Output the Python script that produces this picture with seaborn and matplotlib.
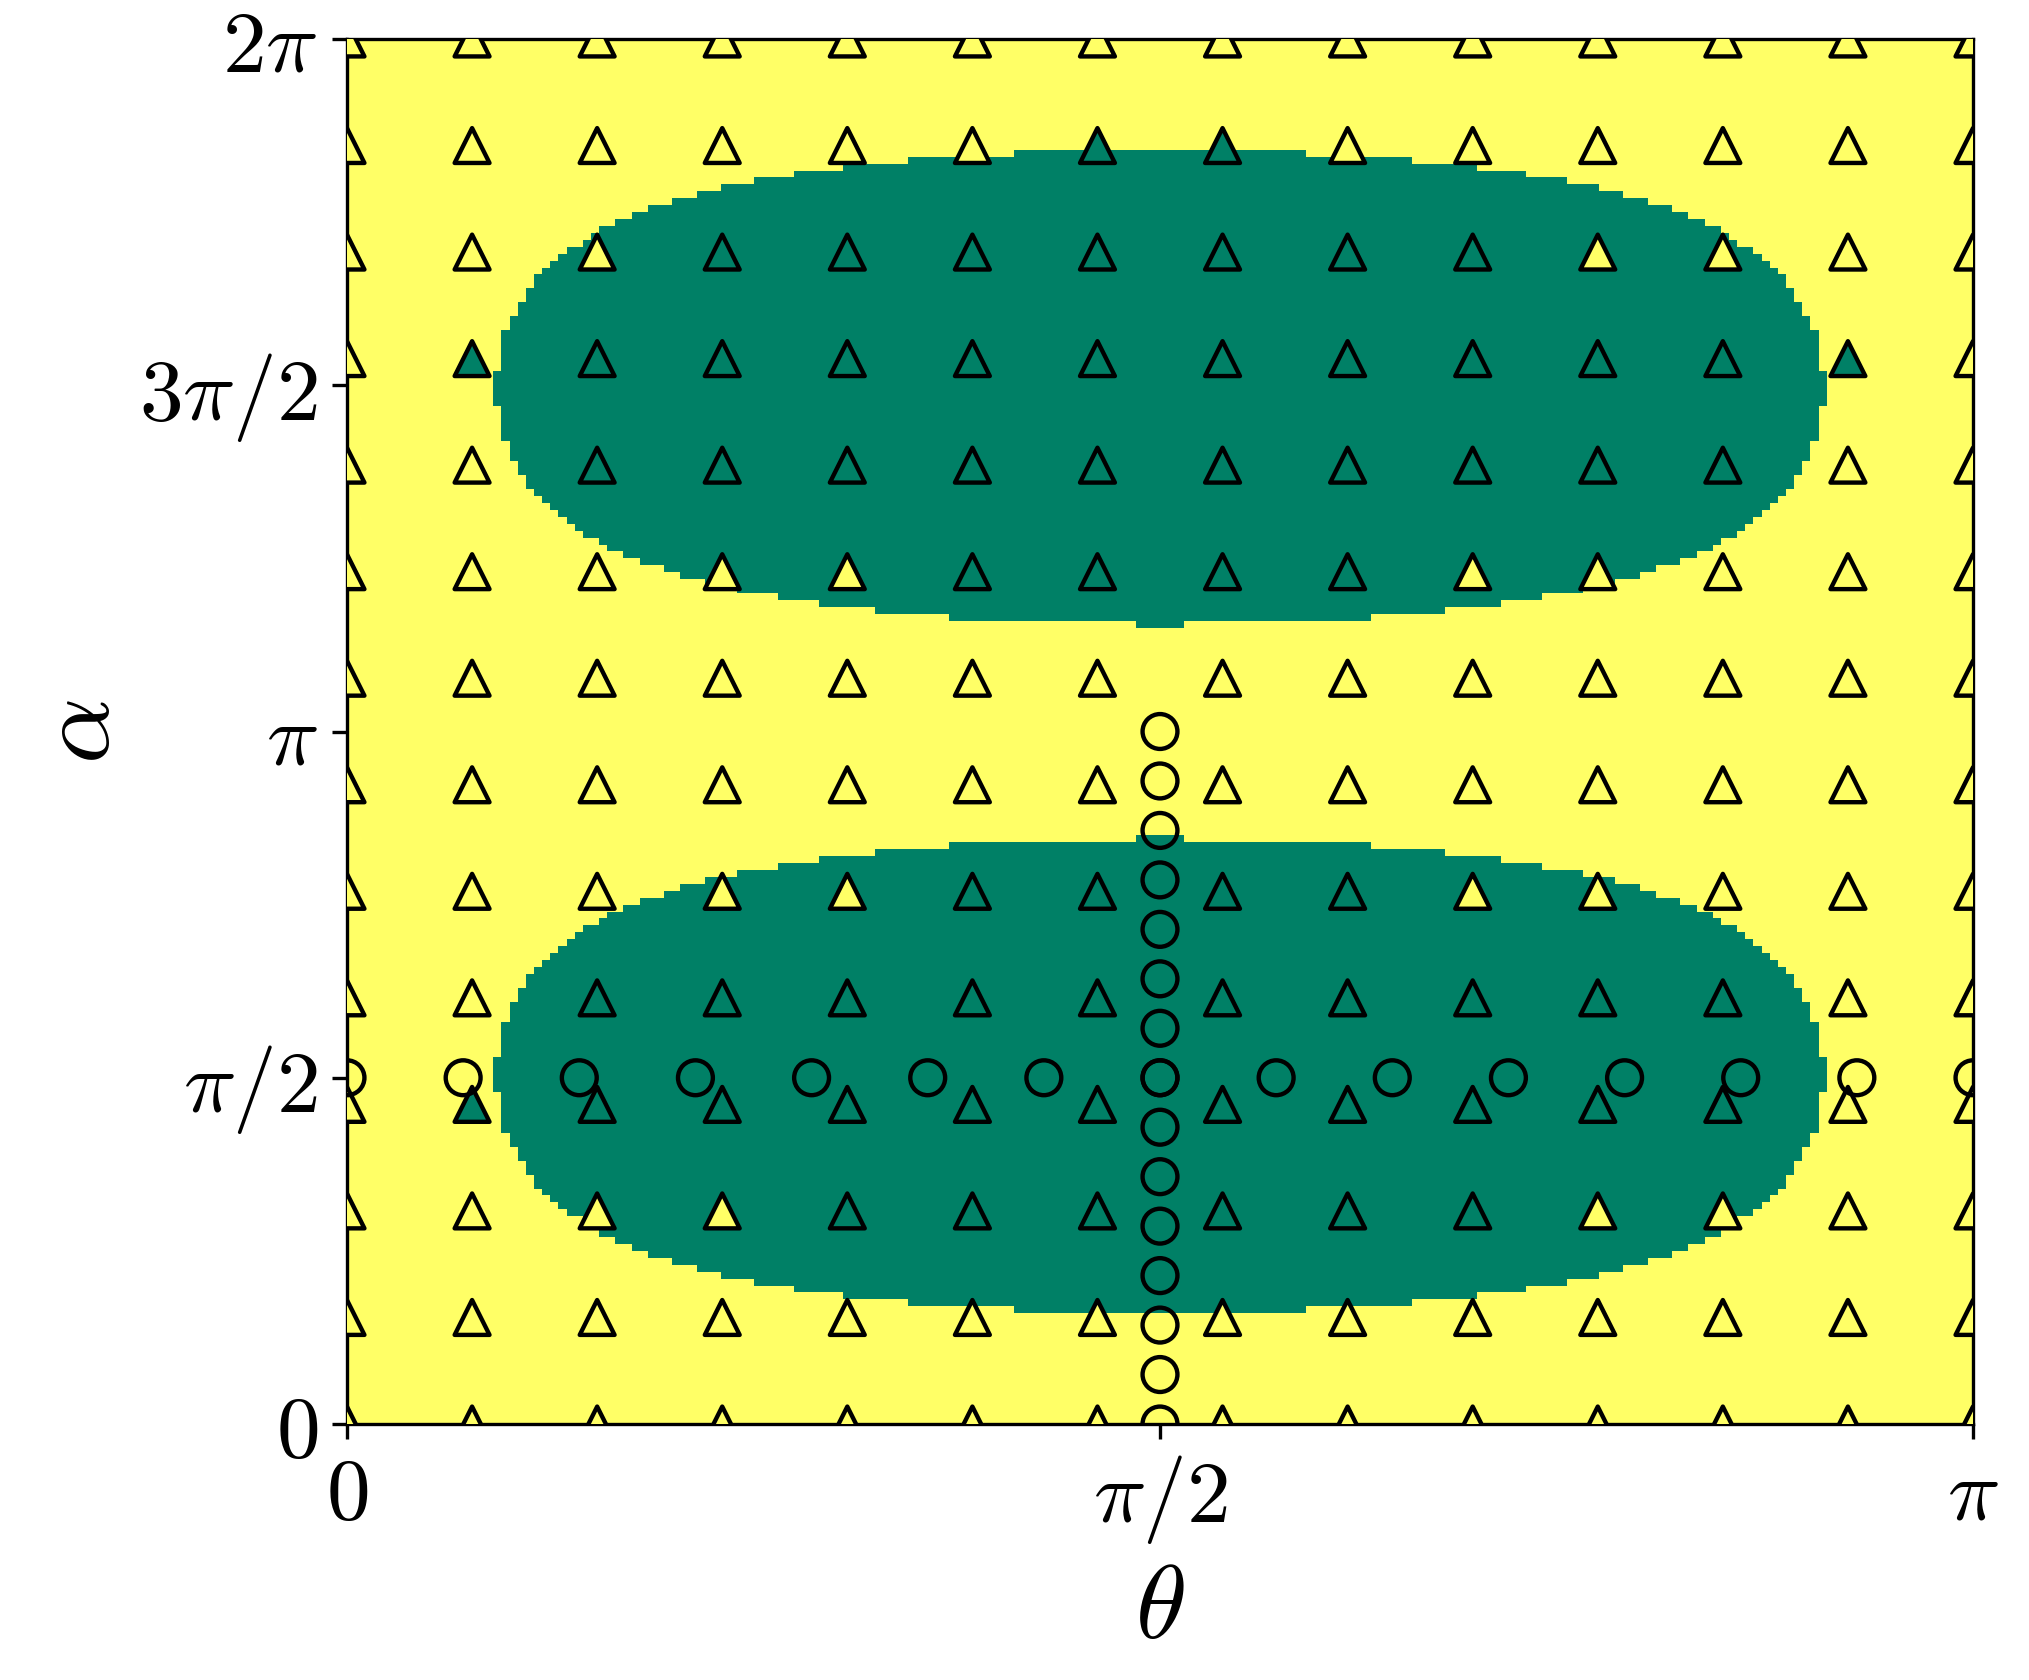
import numpy as np
import pandas as pd
import matplotlib
matplotlib.use('Agg')
import matplotlib.pyplot as plt
from matplotlib.path import Path
import seaborn as sns

# triangle sample grid: 14 x 14 points over theta in [0, pi], alpha in [0, 2pi]
theta_grid = np.linspace(0, np.pi, 14)
alpha_grid = np.linspace(0, 2 * np.pi, 14)

# class of every triangle, row 0 is alpha = 0, '1' = green region class
tri_class = [
    "00000000000000",
    "00000000000000",
    "00001111110000",
    "01111111111100",
    "00111111111100",
    "00000111100000",
    "00000000000000",
    "00000000000000",
    "00000111100000",
    "00111111111100",
    "01111111111110",
    "00011111110000",
    "00000011000000",
    "00000000000000",
]

# circles along alpha = pi/2 and along theta = pi/2
circ_theta = np.linspace(0, np.pi, 15)
circ_alpha = np.linspace(0, np.pi, 15)

# boundary of the green lobes
# half width in theta (measured from pi/2) against distance in alpha from the lobe centre
outer_w = [1.289, 1.271, 1.256, 1.240, 1.225, 1.209, 1.194, 1.179, 1.161, 1.148, 1.115, 1.099,
           1.084, 1.051, 1.020, 0.989, 0.941, 0.895, 0.850, 0.786, 0.707, 0.609, 0.487, 0.282]
outer_a = [0.064, 0.254, 0.318, 0.381, 0.445, 0.504, 0.535, 0.567, 0.599, 0.631, 0.662, 0.694,
           0.726, 0.758, 0.789, 0.821, 0.853, 0.885, 0.912, 0.944, 0.975, 1.007, 1.039, 1.071]
inner_w = [1.289, 1.271, 1.256, 1.240, 1.225, 1.209, 1.194, 1.179, 1.161, 1.146, 1.130, 1.115,
           1.084, 1.068, 1.036, 1.005, 0.958, 0.925, 0.873, 0.815, 0.738, 0.659, 0.549, 0.410, 0.044]
inner_a = [0.091, 0.250, 0.345, 0.408, 0.467, 0.499, 0.531, 0.563, 0.594, 0.626, 0.658, 0.690,
           0.721, 0.753, 0.785, 0.817, 0.848, 0.880, 0.907, 0.939, 0.971, 0.998, 1.034, 1.066, 1.098]
lobe_centres = [(np.pi / 2, 1), (3 * np.pi / 2, -1)]  # (alpha centre, sign of the outer side)

yellow = plt.cm.summer(1.0)
green = plt.cm.summer(0.0)


def stairs(ws, as_):
    pts, prev = [], 0.0
    for w, a in zip(ws, as_):
        pts += [(w, prev), (w, a)]
        prev = a
    pts.append((0.0, prev))
    return pts


def lobe_path(a0, s):
    out = [(np.pi / 2 + w, a0 - s * a) for w, a in stairs(outer_w, outer_a)]
    inn = [(np.pi / 2 + w, a0 + s * a) for w, a in stairs(inner_w, inner_a)]
    right = out[::-1] + inn
    left = [(np.pi - x, y) for x, y in right[::-1]]
    return Path(right + left)


n = 200
th_edges = np.linspace(0, np.pi, n + 1)
al_edges = np.linspace(0, 2 * np.pi, n + 1)
tc = 0.5 * (th_edges[1:] + th_edges[:-1])
ac = 0.5 * (al_edges[1:] + al_edges[:-1])
TT, AA = np.meshgrid(tc, ac)
pts = np.column_stack([TT.ravel(), AA.ravel()])
inside = np.zeros(len(pts), dtype=bool)
for a0, s in lobe_centres:
    inside |= lobe_path(a0, s).contains_points(pts)
Z = np.where(inside, 0.0, 1.0).reshape(n, n)

tri = pd.DataFrame([(theta_grid[i], alpha_grid[j], tri_class[j][i])
                    for j in range(14) for i in range(14)],
                   columns=['theta', 'alpha', 'cls'])
circ = pd.DataFrame({
    'theta': np.concatenate([circ_theta, np.full(len(circ_alpha), np.pi / 2)]),
    'alpha': np.concatenate([np.full(len(circ_theta), np.pi / 2), circ_alpha]),
})

sns.set_style('ticks', rc={'axes.edgecolor': 'black', 'xtick.color': 'black',
                           'ytick.color': 'black', 'text.color': 'black',
                           'axes.labelcolor': 'black'})
plt.rcParams['mathtext.fontset'] = 'cm'

fig = plt.figure(figsize=(2029 / 300, 1680 / 300), dpi=300)
ax = fig.add_axes([347 / 2029, 1 - 1424 / 1680, 1626 / 2029, 1385 / 1680])

ax.pcolormesh(th_edges, al_edges, Z, cmap='summer', vmin=0, vmax=1, shading='flat', rasterized=True)

sns.scatterplot(data=tri, x='theta', y='alpha', hue='cls', palette={'0': yellow, '1': green},
                marker='^', s=70, edgecolor='black', linewidth=1.05, legend=False, ax=ax, zorder=3)
sns.scatterplot(data=circ, x='theta', y='alpha', marker='o', s=70, color='none',
                edgecolor='black', linewidth=1.05, legend=False, ax=ax, zorder=4)

ax.set_xlim(0, np.pi)
ax.set_ylim(0, 2 * np.pi)
ax.set_xticks([0, np.pi / 2, np.pi])
ax.set_xticklabels([r'$0$', r'$\pi/2$', r'$\pi$'], fontsize=21)
ax.set_yticks([0, np.pi / 2, np.pi, 3 * np.pi / 2, 2 * np.pi])
ax.set_yticklabels([r'$0$', r'$\pi/2$', r'$\pi$', r'$3\pi/2$', r'$2\pi$'], fontsize=21)
ax.set_xlabel(r'$\theta$', fontsize=25, labelpad=3)
ax.set_ylabel(r'$\alpha$', fontsize=25, labelpad=2)

fig.savefig('out.png', dpi=300)
